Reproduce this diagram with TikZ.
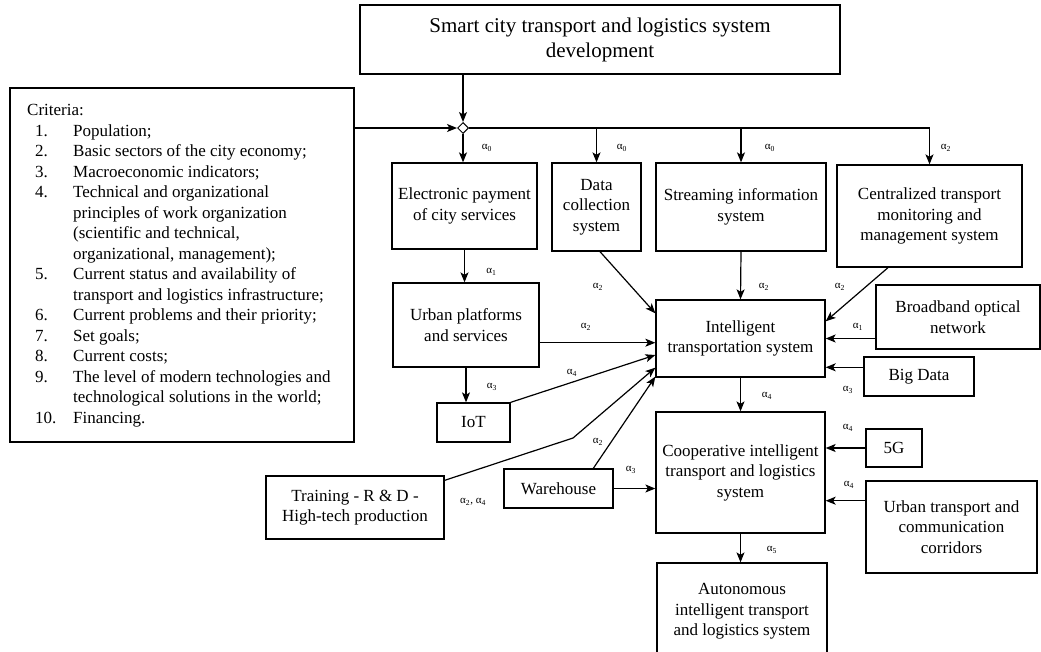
\documentclass[tikz,border=0pt]{standalone}
\usepackage{fontspec}
\setmainfont{Liberation Serif}
\usetikzlibrary{arrows.meta,shapes.geometric,calc}
\begin{document}
\begin{tikzpicture}[x=1pt,y=-1pt,
 box/.style={draw,line width=1.3pt,align=center,inner sep=0pt,font=\fontsize{17}{20.5}\selectfont},
 arr/.style={line width=1.2pt,-{Stealth[length=10pt,width=8pt,inset=2.5pt]}},
 ln/.style={line width=1.2pt},
 lab/.style={font=\fontsize{11}{11}\selectfont,inner sep=0pt}]
\useasboundingbox (0,0) rectangle (1041,651);
\clip (0,0) rectangle (1041,651);
\fill[white] (0,0) rectangle (1041,651);
% boxes
\node[box,minimum width=480,minimum height=69,font=\fontsize{21}{25}\selectfont] (top) at (600,39.5) {Smart city transport and logistics system\\development};
\node[box,minimum width=344,minimum height=354] (crit) at (182,265) {};
\node[anchor=north west,inner sep=0pt,font=\fontsize{17}{20.5}\selectfont] (critt) at (27,101.2) {%
\begin{tabular}{@{\hspace{8pt}}p{38pt}@{}l@{}}
\multicolumn{2}{@{}l@{}}{Criteria:}\\
1. & Population;\\
2. & Basic sectors of the city economy;\\
3. & Macroeconomic indicators;\\
4. & Technical and organizational\\
   & principles of work organization\\
   & (scientific and technical,\\
   & organizational, management);\\
5. & Current status and availability of\\
   & transport and logistics infrastructure;\\
6. & Current problems and their priority;\\
7. & Set goals;\\
8. & Current costs;\\
9. & The level of modern technologies and\\
   & technological solutions in the world;\\
10. & Financing.
\end{tabular}};
\node[box,minimum width=145,minimum height=86] (elec) at (464.5,206) {Electronic payment\\of city services};
\node[box,minimum width=89,minimum height=88] (data) at (596.5,207) {Data\\collection\\system};
\node[box,minimum width=170,minimum height=88] (stream) at (741,207) {Streaming information\\system};
\node[box,minimum width=185,minimum height=102] (central) at (929.5,216) {Centralized transport\\monitoring and\\management system};
\node[box,minimum width=146,minimum height=84] (urban) at (466,325) {Urban platforms\\and services};
\node[box,minimum width=169,minimum height=77] (its) at (740.5,338.5) {Intelligent\\transportation system};
\node[box,minimum width=164,minimum height=64] (broad) at (958,317) {Broadband optical\\network};
\node[box,minimum width=110,minimum height=39] (big) at (919,376.5) {Big Data};
\node[box,minimum width=73,minimum height=39] (iot) at (473.5,422.5) {IoT};
\node[box,minimum width=169,minimum height=121] (coop) at (740.5,472.5) {Cooperative intelligent\\transport and logistics\\system};
\node[box,minimum width=56,minimum height=38] (fiveg) at (894,448) {5G};
\node[box,minimum width=171,minimum height=92] (corr) at (951.5,527) {Urban transport and\\communication\\corridors};
\node[box,minimum width=178,minimum height=63] (train) at (355,507.5) {Training - R \& D -\\High-tech production};
\node[box,minimum width=109,minimum height=39] (ware) at (558.5,488.5) {Warehouse};
\node[box,minimum width=170,minimum height=97] (auto) at (742,611.5) {Autonomous\\intelligent transport\\and logistics system};
\node[diamond,draw,fill=white,line width=1pt,minimum size=11,inner sep=0pt] (dia) at (463,128) {};
% connectors
\draw[arr] (top.south -| dia) -- (dia.north);
\draw[arr] (crit.east |- dia) -- (dia.west);
\draw[ln] (dia.east) -- (central.north |- dia);
\draw[arr] (dia.south) -- (dia |- elec.north);
\draw[arr] (data.north |- dia) -- (data.north);
\draw[arr] (stream.north |- dia) -- (stream.north);
\draw[arr] (central.north |- dia) -- (central.north);
\draw[arr] (elec.south) -- (elec.south |- urban.north);
\draw[arr] (urban.south) -- (urban.south |- iot.north);
\draw[arr] ($(data.south)+(3.5,0)$) -- ($(its.north west)+(0,14)$);
\draw[arr] (stream.south) -- (its.north);
\draw[arr] ($(central.south)+(-41.5,0)$) -- ($(its.north east)+(0,22)$);
\draw[arr] ($(urban.east)+(0,17.7)$) -- ($(its.west)+(0,4.2)$);
\draw[arr] (broad.west |- its.east) -- (its.east);
\coordinate (bg) at ($(big.west)+(0,-9.2)$);
\draw[arr] (bg) -- (its.east |- bg);
\draw[arr] (its.south) -- (its.south |- coop.north);
\draw[arr] (fiveg.west) -- (coop.east |- fiveg.west);
\coordinate (cr) at ($(corr.west)+(0,-26.3)$);
\draw[arr] (cr) -- (coop.east |- cr);
\draw[arr] (iot.north east) -- ($(its.west)+(0,16.5)$);
\coordinate (tb) at (573,438);
\draw[arr] ($(train.north east)+(0,5)$) -- (tb) -- ($(its.south west)+(0,-10)$);
\draw[arr] ($(ware.north)+(34.8,0)$) -- ($(its.south west)+(0,-1)$);
\draw[arr] (ware.east) -- (coop.west |- ware.east);
\draw[arr] (coop.south) -- (coop.south |- auto.north);
% labels
\node[lab] (a1) at (487,148) {α\textsubscript{0}};
\node[lab] (a2) at (622,148) {α\textsubscript{0}};
\node[lab] (a3) at (770,148) {α\textsubscript{0}};
\node[lab] (a4) at (946,148) {α\textsubscript{2}};
\node[lab] (a5) at (491.5,272) {α\textsubscript{1}};
\node[lab] (a6) at (598,287) {α\textsubscript{2}};
\node[lab] (a7) at (764,287) {α\textsubscript{2}};
\node[lab] (a8) at (840,287) {α\textsubscript{2}};
\node[lab] (a9) at (586,327) {α\textsubscript{2}};
\node[lab] (a10) at (858,327) {α\textsubscript{1}};
\node[lab] (a11) at (848,390) {α\textsubscript{3}};
\node[lab] (a12) at (492,387) {α\textsubscript{3}};
\node[lab] (a13) at (572,373) {α\textsubscript{4}};
\node[lab] (a14) at (767,396) {α\textsubscript{4}};
\node[lab] (a15) at (848,428) {α\textsubscript{4}};
\node[lab] (a16) at (849,485) {α\textsubscript{4}};
\node[lab] (a17) at (598,442) {α\textsubscript{2}};
\node[lab] (a18) at (631,470) {α\textsubscript{3}};
\node[lab] (a19) at (473,502) {α\textsubscript{2}, α\textsubscript{4}};
\node[lab] (a20) at (772,550) {α\textsubscript{5}};
\end{tikzpicture}
\end{document}
